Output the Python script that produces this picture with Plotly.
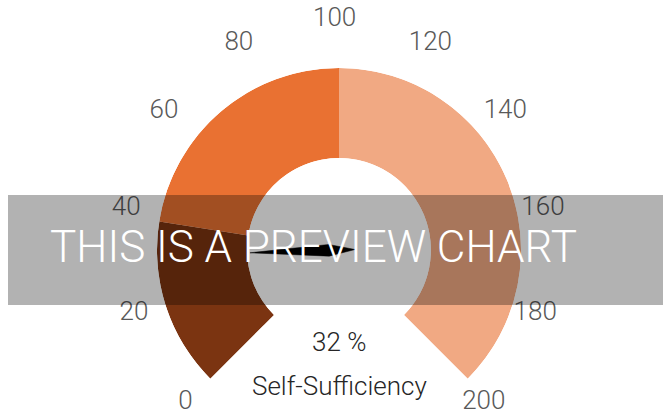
import math
import plotly.graph_objects as go

# gauge data
gauge_min = 0
gauge_max = 200
band_lo = [0, 40, 100]
band_hi = [40, 100, 200]
band_colors = ["#7B3411", "#E97132", "#F1A983"]
tick_vals = [0, 20, 40, 60, 80, 100, 120, 140, 160, 180, 200]
value = 32
value_label = "32 %"
title = "Self-Sufficiency"
watermark = "THIS IS A PREVIEW CHART"

SWEEP = 270.0
deg = SWEEP / (gauge_max - gauge_min)  # degrees per unit

W, H = 663, 416
CX, CY, R = 339, 250, 182  # gauge centre / outer radius in px
# polar domain (sector -45..225)
dom_x = [(CX - R) / W, (CX + R) / W]
dom_y = [(H - CY - R * math.sqrt(0.5)) / H, (H - CY + R) / H]

fig = go.Figure()

for lo, hi, c in zip(band_lo, band_hi, band_colors):
    fig.add_trace(go.Barpolar(
        r=[1], theta=[(lo + hi) / 2 * deg], width=[(hi - lo) * deg], base=0,
        marker=dict(color=c, line=dict(width=0)),
        hoverinfo="skip", showlegend=False))

def ang(v):
    return math.radians(225 - (v - gauge_min) * deg)

# tick labels around the ring (cartesian overlay, 1 unit = outer radius)
lab_rx, lab_ry, lab_dx, lab_dy = 1.159, 1.234, -0.024, 0.034
fig.add_trace(go.Scatter(
    x=[lab_rx * math.cos(ang(v)) + lab_dx for v in tick_vals],
    y=[lab_ry * math.sin(ang(v)) + lab_dy for v in tick_vals],
    text=[str(v) for v in tick_vals], mode="text", cliponaxis=False,
    textfont=dict(family="Roboto", size=26, color="#595959", weight=300),
    hoverinfo="skip", showlegend=False))

# needle
a = ang(value)
ux, uy = math.cos(a), math.sin(a)
px_, py_ = -uy, ux
tip, mid, back, half = 0.49, 0.055, -0.088, 0.032
nx = [tip * ux, mid * ux + half * px_, back * ux, mid * ux - half * px_, tip * ux]
ny = [tip * uy, mid * uy + half * py_, back * uy, mid * uy - half * py_, tip * uy]
fig.add_trace(go.Scatter(x=nx, y=ny, mode="lines", fill="toself",
                         fillcolor="black", line=dict(color="black", width=0.5),
                         hoverinfo="skip", showlegend=False))

fig.update_layout(
    width=W, height=H,
    margin=dict(l=0, r=0, t=0, b=0),
    paper_bgcolor="white", plot_bgcolor="rgba(0,0,0,0)",
    font=dict(family="Roboto", weight=300),
    polar=dict(
        domain=dict(x=dom_x, y=dom_y),
        sector=[-45, 225], hole=0.505, bgcolor="rgba(0,0,0,0)",
        radialaxis=dict(range=[0, 1], visible=False, showgrid=False),
        angularaxis=dict(rotation=225, direction="clockwise", thetaunit="degrees",
                         visible=False, showgrid=False),
    ),
    xaxis=dict(domain=[0, 1], range=[-CX / R, (W - CX) / R], visible=False, fixedrange=True),
    yaxis=dict(domain=[0, 1], range=[-(H - CY) / R, CY / R], visible=False, fixedrange=True),
    shapes=[dict(type="rect", xref="paper", yref="paper",
                 x0=8 / W, x1=1, y0=(H - 305) / H, y1=(H - 195) / H,
                 fillcolor="rgba(0,0,0,0.3)", line=dict(width=0), layer="above")],
    annotations=[
        dict(text=value_label, x=339 / W, y=1 - 342 / H, xref="paper", yref="paper",
             xanchor="center", yanchor="middle", showarrow=False,
             font=dict(family="Roboto", size=26, color="#262626", weight=300)),
        dict(text=title, x=340 / W, y=1 - 386 / H, xref="paper", yref="paper",
             xanchor="center", yanchor="middle", showarrow=False,
             font=dict(family="Roboto", size=26, color="#262626", weight=300)),
        dict(text=watermark, x=313.5 / W, y=1 - 247 / H, xref="paper", yref="paper",
             xanchor="center", yanchor="middle", showarrow=False,
             font=dict(family="Roboto", size=44, color="white", weight=300)),
    ],
)

fig.write_html("out.html", config={"displayModeBar": False},
               post_script="document.body.style.margin='0';")
